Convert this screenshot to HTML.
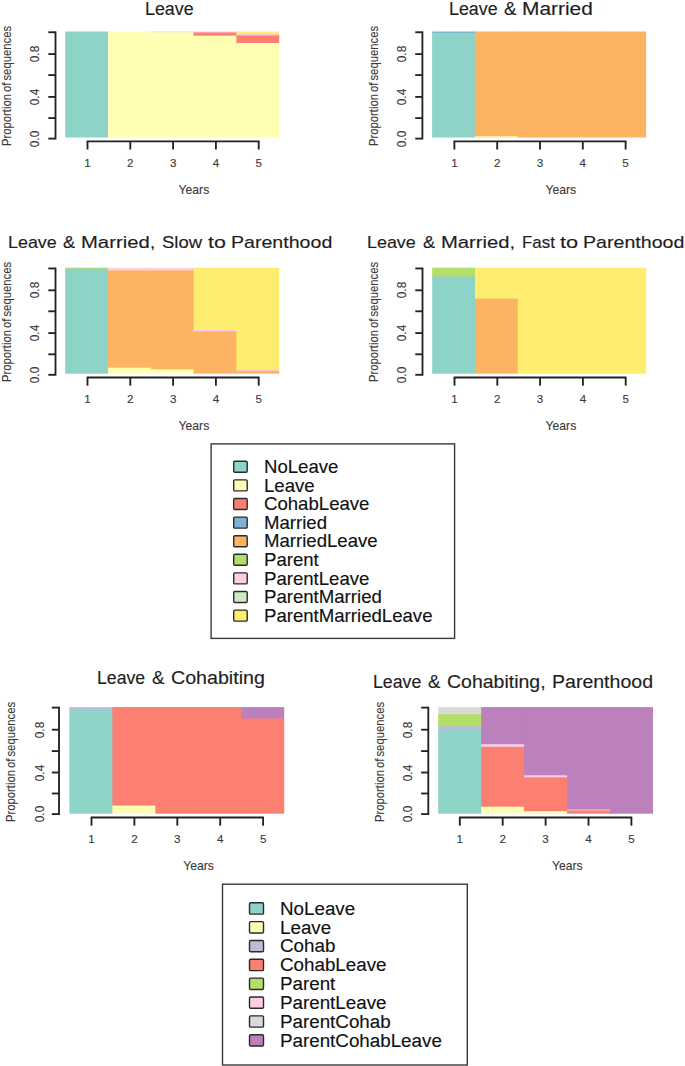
<!DOCTYPE html>
<html><head><meta charset="utf-8"><style>
html,body{margin:0;padding:0;background:#fff;}
body{width:685px;height:1066px;position:relative;overflow:hidden;font-family:"Liberation Sans", sans-serif;}
svg{position:absolute;left:0;top:0;}
</style></head><body>
<svg width="685" height="1066" viewBox="0 0 685 1066">
<rect x="65.20" y="31.50" width="43.80" height="106.00" fill="#8DD3C7" />
<rect x="108.00" y="31.50" width="43.80" height="106.00" fill="#FFFFB3" />
<rect x="150.80" y="31.50" width="43.80" height="1.80" fill="#FCCDE5" />
<rect x="150.80" y="32.30" width="43.80" height="105.20" fill="#FFFFB3" />
<rect x="193.60" y="31.50" width="43.80" height="2.00" fill="#FCCDE5" />
<rect x="193.60" y="32.50" width="43.80" height="4.20" fill="#FB8072" />
<rect x="193.60" y="35.70" width="43.80" height="101.80" fill="#FFFFB3" />
<rect x="236.40" y="31.50" width="42.80" height="2.80" fill="#FFED6F" />
<rect x="236.40" y="33.30" width="42.80" height="2.60" fill="#FCCDE5" />
<rect x="236.40" y="34.90" width="42.80" height="2.00" fill="#FDB462" />
<rect x="236.40" y="35.90" width="42.80" height="8.10" fill="#FB8072" />
<rect x="236.40" y="43.00" width="42.80" height="94.50" fill="#FFFFB3" />
<line x1="55.50" y1="31.45" x2="55.50" y2="139.40" stroke="#222" stroke-width="1.85"/>
<line x1="48.30" y1="138.60" x2="55.50" y2="138.60" stroke="#222" stroke-width="1.85"/>
<line x1="48.30" y1="118.10" x2="55.50" y2="118.10" stroke="#222" stroke-width="1.85"/>
<line x1="48.30" y1="96.90" x2="55.50" y2="96.90" stroke="#222" stroke-width="1.85"/>
<line x1="48.30" y1="75.10" x2="55.50" y2="75.10" stroke="#222" stroke-width="1.85"/>
<line x1="48.30" y1="54.10" x2="55.50" y2="54.10" stroke="#222" stroke-width="1.85"/>
<line x1="48.30" y1="32.25" x2="55.50" y2="32.25" stroke="#222" stroke-width="1.85"/>
<line x1="86.70" y1="141.30" x2="259.50" y2="141.30" stroke="#222" stroke-width="1.85"/>
<line x1="87.50" y1="141.30" x2="87.50" y2="149.50" stroke="#222" stroke-width="1.85"/>
<line x1="130.30" y1="141.30" x2="130.30" y2="149.50" stroke="#222" stroke-width="1.85"/>
<line x1="173.10" y1="141.30" x2="173.10" y2="149.50" stroke="#222" stroke-width="1.85"/>
<line x1="215.90" y1="141.30" x2="215.90" y2="149.50" stroke="#222" stroke-width="1.85"/>
<line x1="258.70" y1="141.30" x2="258.70" y2="149.50" stroke="#222" stroke-width="1.85"/>
<rect x="432.10" y="31.50" width="43.80" height="2.30" fill="#80B1D3" />
<rect x="432.10" y="32.80" width="43.80" height="104.70" fill="#8DD3C7" />
<rect x="474.90" y="31.50" width="43.80" height="105.80" fill="#FDB462" />
<rect x="474.90" y="136.30" width="43.80" height="1.20" fill="#FFFFB3" />
<rect x="517.70" y="31.50" width="43.80" height="106.50" fill="#FDB462" />
<rect x="517.70" y="137.00" width="43.80" height="0.50" fill="#FFFFB3" />
<rect x="560.50" y="31.50" width="43.80" height="106.00" fill="#FDB462" />
<rect x="603.30" y="31.50" width="42.80" height="106.00" fill="#FDB462" />
<line x1="422.40" y1="31.45" x2="422.40" y2="139.40" stroke="#222" stroke-width="1.85"/>
<line x1="415.20" y1="138.60" x2="422.40" y2="138.60" stroke="#222" stroke-width="1.85"/>
<line x1="415.20" y1="118.10" x2="422.40" y2="118.10" stroke="#222" stroke-width="1.85"/>
<line x1="415.20" y1="96.90" x2="422.40" y2="96.90" stroke="#222" stroke-width="1.85"/>
<line x1="415.20" y1="75.10" x2="422.40" y2="75.10" stroke="#222" stroke-width="1.85"/>
<line x1="415.20" y1="54.10" x2="422.40" y2="54.10" stroke="#222" stroke-width="1.85"/>
<line x1="415.20" y1="32.25" x2="422.40" y2="32.25" stroke="#222" stroke-width="1.85"/>
<line x1="453.60" y1="141.30" x2="626.40" y2="141.30" stroke="#222" stroke-width="1.85"/>
<line x1="454.40" y1="141.30" x2="454.40" y2="149.50" stroke="#222" stroke-width="1.85"/>
<line x1="497.20" y1="141.30" x2="497.20" y2="149.50" stroke="#222" stroke-width="1.85"/>
<line x1="540.00" y1="141.30" x2="540.00" y2="149.50" stroke="#222" stroke-width="1.85"/>
<line x1="582.80" y1="141.30" x2="582.80" y2="149.50" stroke="#222" stroke-width="1.85"/>
<line x1="625.60" y1="141.30" x2="625.60" y2="149.50" stroke="#222" stroke-width="1.85"/>
<rect x="65.20" y="267.70" width="43.80" height="2.00" fill="#B3DE69" />
<rect x="65.20" y="268.70" width="43.80" height="105.00" fill="#8DD3C7" />
<rect x="108.00" y="267.70" width="43.80" height="3.70" fill="#FCCDE5" />
<rect x="108.00" y="270.40" width="43.80" height="98.30" fill="#FDB462" />
<rect x="108.00" y="367.70" width="43.80" height="6.00" fill="#FFFFB3" />
<rect x="150.80" y="267.70" width="43.80" height="3.70" fill="#FCCDE5" />
<rect x="150.80" y="270.40" width="43.80" height="99.90" fill="#FDB462" />
<rect x="150.80" y="369.30" width="43.80" height="4.40" fill="#FFFFB3" />
<rect x="193.60" y="267.70" width="43.80" height="63.30" fill="#FFED6F" />
<rect x="193.60" y="330.00" width="43.80" height="2.20" fill="#FCCDE5" />
<rect x="193.60" y="331.20" width="43.80" height="42.50" fill="#FDB462" />
<rect x="236.40" y="267.70" width="42.80" height="102.50" fill="#FFED6F" />
<rect x="236.40" y="369.20" width="42.80" height="2.60" fill="#FCCDE5" />
<rect x="236.40" y="370.80" width="42.80" height="2.90" fill="#FDB462" />
<line x1="55.50" y1="267.65" x2="55.50" y2="375.60" stroke="#222" stroke-width="1.85"/>
<line x1="48.30" y1="374.80" x2="55.50" y2="374.80" stroke="#222" stroke-width="1.85"/>
<line x1="48.30" y1="354.30" x2="55.50" y2="354.30" stroke="#222" stroke-width="1.85"/>
<line x1="48.30" y1="333.10" x2="55.50" y2="333.10" stroke="#222" stroke-width="1.85"/>
<line x1="48.30" y1="311.30" x2="55.50" y2="311.30" stroke="#222" stroke-width="1.85"/>
<line x1="48.30" y1="290.30" x2="55.50" y2="290.30" stroke="#222" stroke-width="1.85"/>
<line x1="48.30" y1="268.45" x2="55.50" y2="268.45" stroke="#222" stroke-width="1.85"/>
<line x1="86.70" y1="377.50" x2="259.50" y2="377.50" stroke="#222" stroke-width="1.85"/>
<line x1="87.50" y1="377.50" x2="87.50" y2="385.70" stroke="#222" stroke-width="1.85"/>
<line x1="130.30" y1="377.50" x2="130.30" y2="385.70" stroke="#222" stroke-width="1.85"/>
<line x1="173.10" y1="377.50" x2="173.10" y2="385.70" stroke="#222" stroke-width="1.85"/>
<line x1="215.90" y1="377.50" x2="215.90" y2="385.70" stroke="#222" stroke-width="1.85"/>
<line x1="258.70" y1="377.50" x2="258.70" y2="385.70" stroke="#222" stroke-width="1.85"/>
<rect x="432.20" y="267.70" width="43.80" height="9.80" fill="#B3DE69" />
<rect x="432.20" y="276.50" width="43.80" height="97.20" fill="#8DD3C7" />
<rect x="475.00" y="267.70" width="43.80" height="32.00" fill="#FFED6F" />
<rect x="475.00" y="298.70" width="43.80" height="75.00" fill="#FDB462" />
<rect x="517.80" y="267.70" width="43.80" height="106.00" fill="#FFED6F" />
<rect x="560.60" y="267.70" width="43.80" height="106.00" fill="#FFED6F" />
<rect x="603.40" y="267.70" width="42.80" height="106.00" fill="#FFED6F" />
<line x1="422.50" y1="267.65" x2="422.50" y2="375.60" stroke="#222" stroke-width="1.85"/>
<line x1="415.30" y1="374.80" x2="422.50" y2="374.80" stroke="#222" stroke-width="1.85"/>
<line x1="415.30" y1="354.30" x2="422.50" y2="354.30" stroke="#222" stroke-width="1.85"/>
<line x1="415.30" y1="333.10" x2="422.50" y2="333.10" stroke="#222" stroke-width="1.85"/>
<line x1="415.30" y1="311.30" x2="422.50" y2="311.30" stroke="#222" stroke-width="1.85"/>
<line x1="415.30" y1="290.30" x2="422.50" y2="290.30" stroke="#222" stroke-width="1.85"/>
<line x1="415.30" y1="268.45" x2="422.50" y2="268.45" stroke="#222" stroke-width="1.85"/>
<line x1="453.70" y1="377.50" x2="626.50" y2="377.50" stroke="#222" stroke-width="1.85"/>
<line x1="454.50" y1="377.50" x2="454.50" y2="385.70" stroke="#222" stroke-width="1.85"/>
<line x1="497.30" y1="377.50" x2="497.30" y2="385.70" stroke="#222" stroke-width="1.85"/>
<line x1="540.10" y1="377.50" x2="540.10" y2="385.70" stroke="#222" stroke-width="1.85"/>
<line x1="582.90" y1="377.50" x2="582.90" y2="385.70" stroke="#222" stroke-width="1.85"/>
<line x1="625.70" y1="377.50" x2="625.70" y2="385.70" stroke="#222" stroke-width="1.85"/>
<rect x="69.40" y="707.10" width="43.96" height="3.40" fill="#BEBADA" />
<rect x="69.40" y="709.50" width="43.96" height="104.20" fill="#8DD3C7" />
<rect x="112.36" y="707.10" width="43.96" height="99.50" fill="#FB8072" />
<rect x="112.36" y="805.60" width="43.96" height="8.10" fill="#FFFFB3" />
<rect x="155.32" y="707.10" width="43.96" height="106.60" fill="#FB8072" />
<rect x="198.28" y="707.10" width="43.96" height="106.60" fill="#FB8072" />
<rect x="241.24" y="707.10" width="42.96" height="12.40" fill="#BC80BD" />
<rect x="241.24" y="718.50" width="42.96" height="95.20" fill="#FB8072" />
<line x1="59.00" y1="706.80" x2="59.00" y2="814.90" stroke="#222" stroke-width="1.85"/>
<line x1="51.80" y1="814.10" x2="59.00" y2="814.10" stroke="#222" stroke-width="1.85"/>
<line x1="51.80" y1="793.50" x2="59.00" y2="793.50" stroke="#222" stroke-width="1.85"/>
<line x1="51.80" y1="772.50" x2="59.00" y2="772.50" stroke="#222" stroke-width="1.85"/>
<line x1="51.80" y1="751.10" x2="59.00" y2="751.10" stroke="#222" stroke-width="1.85"/>
<line x1="51.80" y1="729.70" x2="59.00" y2="729.70" stroke="#222" stroke-width="1.85"/>
<line x1="51.80" y1="707.60" x2="59.00" y2="707.60" stroke="#222" stroke-width="1.85"/>
<line x1="90.70" y1="817.50" x2="263.90" y2="817.50" stroke="#222" stroke-width="1.85"/>
<line x1="91.50" y1="817.50" x2="91.50" y2="825.70" stroke="#222" stroke-width="1.85"/>
<line x1="134.40" y1="817.50" x2="134.40" y2="825.70" stroke="#222" stroke-width="1.85"/>
<line x1="177.30" y1="817.50" x2="177.30" y2="825.70" stroke="#222" stroke-width="1.85"/>
<line x1="220.20" y1="817.50" x2="220.20" y2="825.70" stroke="#222" stroke-width="1.85"/>
<line x1="263.10" y1="817.50" x2="263.10" y2="825.70" stroke="#222" stroke-width="1.85"/>
<rect x="438.20" y="707.10" width="43.96" height="8.00" fill="#D9D9D9" />
<rect x="438.20" y="714.10" width="43.96" height="13.20" fill="#B3DE69" />
<rect x="438.20" y="726.30" width="43.96" height="3.60" fill="#BEBADA" />
<rect x="438.20" y="728.90" width="43.96" height="84.80" fill="#8DD3C7" />
<rect x="481.16" y="707.10" width="43.96" height="38.10" fill="#BC80BD" />
<rect x="481.16" y="744.20" width="43.96" height="3.60" fill="#FCCDE5" />
<rect x="481.16" y="746.80" width="43.96" height="60.90" fill="#FB8072" />
<rect x="481.16" y="806.70" width="43.96" height="7.00" fill="#FFFFB3" />
<rect x="524.12" y="707.10" width="43.96" height="69.20" fill="#BC80BD" />
<rect x="524.12" y="775.30" width="43.96" height="3.10" fill="#FCCDE5" />
<rect x="524.12" y="777.40" width="43.96" height="34.80" fill="#FB8072" />
<rect x="524.12" y="811.20" width="43.96" height="2.50" fill="#FFFFB3" />
<rect x="567.08" y="707.10" width="43.96" height="103.50" fill="#BC80BD" />
<rect x="567.08" y="809.60" width="43.96" height="1.90" fill="#FCCDE5" />
<rect x="567.08" y="810.50" width="43.96" height="3.20" fill="#FB8072" />
<rect x="610.04" y="707.10" width="42.96" height="106.60" fill="#BC80BD" />
<line x1="428.30" y1="706.80" x2="428.30" y2="814.90" stroke="#222" stroke-width="1.85"/>
<line x1="421.10" y1="814.10" x2="428.30" y2="814.10" stroke="#222" stroke-width="1.85"/>
<line x1="421.10" y1="793.50" x2="428.30" y2="793.50" stroke="#222" stroke-width="1.85"/>
<line x1="421.10" y1="772.50" x2="428.30" y2="772.50" stroke="#222" stroke-width="1.85"/>
<line x1="421.10" y1="751.10" x2="428.30" y2="751.10" stroke="#222" stroke-width="1.85"/>
<line x1="421.10" y1="729.70" x2="428.30" y2="729.70" stroke="#222" stroke-width="1.85"/>
<line x1="421.10" y1="707.60" x2="428.30" y2="707.60" stroke="#222" stroke-width="1.85"/>
<line x1="459.00" y1="817.50" x2="632.20" y2="817.50" stroke="#222" stroke-width="1.85"/>
<line x1="459.80" y1="817.50" x2="459.80" y2="825.70" stroke="#222" stroke-width="1.85"/>
<line x1="502.70" y1="817.50" x2="502.70" y2="825.70" stroke="#222" stroke-width="1.85"/>
<line x1="545.60" y1="817.50" x2="545.60" y2="825.70" stroke="#222" stroke-width="1.85"/>
<line x1="588.50" y1="817.50" x2="588.50" y2="825.70" stroke="#222" stroke-width="1.85"/>
<line x1="631.40" y1="817.50" x2="631.40" y2="825.70" stroke="#222" stroke-width="1.85"/>
<rect x="211.10" y="443.90" width="243.50" height="194.50" fill="none" stroke="#3a3a3a" stroke-width="1.4"/>
<rect x="233.70" y="461.30" width="13.50" height="11.00" fill="#8DD3C7" stroke="#2a2a2a" stroke-width="1.4" rx="1.2"/>
<rect x="233.70" y="479.90" width="13.50" height="11.00" fill="#FFFFB3" stroke="#2a2a2a" stroke-width="1.4" rx="1.2"/>
<rect x="233.70" y="498.50" width="13.50" height="11.00" fill="#FB8072" stroke="#2a2a2a" stroke-width="1.4" rx="1.2"/>
<rect x="233.70" y="517.10" width="13.50" height="11.00" fill="#80B1D3" stroke="#2a2a2a" stroke-width="1.4" rx="1.2"/>
<rect x="233.70" y="535.70" width="13.50" height="11.00" fill="#FDB462" stroke="#2a2a2a" stroke-width="1.4" rx="1.2"/>
<rect x="233.70" y="554.30" width="13.50" height="11.00" fill="#B3DE69" stroke="#2a2a2a" stroke-width="1.4" rx="1.2"/>
<rect x="233.70" y="572.90" width="13.50" height="11.00" fill="#FCCDE5" stroke="#2a2a2a" stroke-width="1.4" rx="1.2"/>
<rect x="233.70" y="591.50" width="13.50" height="11.00" fill="#CCEBC5" stroke="#2a2a2a" stroke-width="1.4" rx="1.2"/>
<rect x="233.70" y="610.10" width="13.50" height="11.00" fill="#FFED6F" stroke="#2a2a2a" stroke-width="1.4" rx="1.2"/>
<rect x="222.50" y="884.20" width="244.80" height="180.80" fill="none" stroke="#3a3a3a" stroke-width="1.4"/>
<rect x="249.50" y="902.80" width="14.00" height="11.30" fill="#8DD3C7" stroke="#2a2a2a" stroke-width="1.4" rx="1.2"/>
<rect x="249.50" y="921.64" width="14.00" height="11.30" fill="#FFFFB3" stroke="#2a2a2a" stroke-width="1.4" rx="1.2"/>
<rect x="249.50" y="940.48" width="14.00" height="11.30" fill="#BEBADA" stroke="#2a2a2a" stroke-width="1.4" rx="1.2"/>
<rect x="249.50" y="959.32" width="14.00" height="11.30" fill="#FB8072" stroke="#2a2a2a" stroke-width="1.4" rx="1.2"/>
<rect x="249.50" y="978.16" width="14.00" height="11.30" fill="#B3DE69" stroke="#2a2a2a" stroke-width="1.4" rx="1.2"/>
<rect x="249.50" y="997.00" width="14.00" height="11.30" fill="#FCCDE5" stroke="#2a2a2a" stroke-width="1.4" rx="1.2"/>
<rect x="249.50" y="1015.84" width="14.00" height="11.30" fill="#D9D9D9" stroke="#2a2a2a" stroke-width="1.4" rx="1.2"/>
<rect x="249.50" y="1034.68" width="14.00" height="11.30" fill="#BC80BD" stroke="#2a2a2a" stroke-width="1.4" rx="1.2"/>
</svg>
<div style="position:absolute;left:35.40px;top:138.60px;font-size:12.5px;line-height:12.5px;color:#3a3a3a;white-space:nowrap;transform:translate(-50%,-50%) rotate(-90deg) scaleX(0.95);-webkit-text-stroke:0.12px #3a3a3a;">0.0</div>
<div style="position:absolute;left:35.40px;top:96.90px;font-size:12.5px;line-height:12.5px;color:#3a3a3a;white-space:nowrap;transform:translate(-50%,-50%) rotate(-90deg) scaleX(0.95);-webkit-text-stroke:0.12px #3a3a3a;">0.4</div>
<div style="position:absolute;left:35.40px;top:54.10px;font-size:12.5px;line-height:12.5px;color:#3a3a3a;white-space:nowrap;transform:translate(-50%,-50%) rotate(-90deg) scaleX(0.95);-webkit-text-stroke:0.12px #3a3a3a;">0.8</div>
<div style="position:absolute;left:6.60px;top:86.00px;font-size:12.2px;line-height:12.2px;color:#3a3a3a;white-space:nowrap;transform:translate(-50%,-50%) rotate(-90deg) scaleX(0.926);-webkit-text-stroke:0.12px #3a3a3a;word-spacing:-1.2px;">Proportion of sequences</div>
<div style="position:absolute;top:157.18px;font-size:11.6px;line-height:11.6px;color:#3a3a3a;white-space:nowrap;left:-212.50px;width:600px;text-align:center;-webkit-text-stroke:0.12px #3a3a3a;">1</div>
<div style="position:absolute;top:157.18px;font-size:11.6px;line-height:11.6px;color:#3a3a3a;white-space:nowrap;left:-169.70px;width:600px;text-align:center;-webkit-text-stroke:0.12px #3a3a3a;">2</div>
<div style="position:absolute;top:157.18px;font-size:11.6px;line-height:11.6px;color:#3a3a3a;white-space:nowrap;left:-126.90px;width:600px;text-align:center;-webkit-text-stroke:0.12px #3a3a3a;">3</div>
<div style="position:absolute;top:157.18px;font-size:11.6px;line-height:11.6px;color:#3a3a3a;white-space:nowrap;left:-84.10px;width:600px;text-align:center;-webkit-text-stroke:0.12px #3a3a3a;">4</div>
<div style="position:absolute;top:157.18px;font-size:11.6px;line-height:11.6px;color:#3a3a3a;white-space:nowrap;left:-41.30px;width:600px;text-align:center;-webkit-text-stroke:0.12px #3a3a3a;">5</div>
<div style="position:absolute;top:184.17px;font-size:12.2px;line-height:12.2px;color:#3a3a3a;white-space:nowrap;left:-106.10px;width:600px;text-align:center;-webkit-text-stroke:0.12px #3a3a3a;">Years</div>
<div style="position:absolute;left:402.30px;top:138.60px;font-size:12.5px;line-height:12.5px;color:#3a3a3a;white-space:nowrap;transform:translate(-50%,-50%) rotate(-90deg) scaleX(0.95);-webkit-text-stroke:0.12px #3a3a3a;">0.0</div>
<div style="position:absolute;left:402.30px;top:96.90px;font-size:12.5px;line-height:12.5px;color:#3a3a3a;white-space:nowrap;transform:translate(-50%,-50%) rotate(-90deg) scaleX(0.95);-webkit-text-stroke:0.12px #3a3a3a;">0.4</div>
<div style="position:absolute;left:402.30px;top:54.10px;font-size:12.5px;line-height:12.5px;color:#3a3a3a;white-space:nowrap;transform:translate(-50%,-50%) rotate(-90deg) scaleX(0.95);-webkit-text-stroke:0.12px #3a3a3a;">0.8</div>
<div style="position:absolute;left:373.50px;top:86.00px;font-size:12.2px;line-height:12.2px;color:#3a3a3a;white-space:nowrap;transform:translate(-50%,-50%) rotate(-90deg) scaleX(0.926);-webkit-text-stroke:0.12px #3a3a3a;word-spacing:-1.2px;">Proportion of sequences</div>
<div style="position:absolute;top:157.18px;font-size:11.6px;line-height:11.6px;color:#3a3a3a;white-space:nowrap;left:154.40px;width:600px;text-align:center;-webkit-text-stroke:0.12px #3a3a3a;">1</div>
<div style="position:absolute;top:157.18px;font-size:11.6px;line-height:11.6px;color:#3a3a3a;white-space:nowrap;left:197.20px;width:600px;text-align:center;-webkit-text-stroke:0.12px #3a3a3a;">2</div>
<div style="position:absolute;top:157.18px;font-size:11.6px;line-height:11.6px;color:#3a3a3a;white-space:nowrap;left:240.00px;width:600px;text-align:center;-webkit-text-stroke:0.12px #3a3a3a;">3</div>
<div style="position:absolute;top:157.18px;font-size:11.6px;line-height:11.6px;color:#3a3a3a;white-space:nowrap;left:282.80px;width:600px;text-align:center;-webkit-text-stroke:0.12px #3a3a3a;">4</div>
<div style="position:absolute;top:157.18px;font-size:11.6px;line-height:11.6px;color:#3a3a3a;white-space:nowrap;left:325.60px;width:600px;text-align:center;-webkit-text-stroke:0.12px #3a3a3a;">5</div>
<div style="position:absolute;top:184.17px;font-size:12.2px;line-height:12.2px;color:#3a3a3a;white-space:nowrap;left:260.80px;width:600px;text-align:center;-webkit-text-stroke:0.12px #3a3a3a;">Years</div>
<div style="position:absolute;left:35.40px;top:374.80px;font-size:12.5px;line-height:12.5px;color:#3a3a3a;white-space:nowrap;transform:translate(-50%,-50%) rotate(-90deg) scaleX(0.95);-webkit-text-stroke:0.12px #3a3a3a;">0.0</div>
<div style="position:absolute;left:35.40px;top:333.10px;font-size:12.5px;line-height:12.5px;color:#3a3a3a;white-space:nowrap;transform:translate(-50%,-50%) rotate(-90deg) scaleX(0.95);-webkit-text-stroke:0.12px #3a3a3a;">0.4</div>
<div style="position:absolute;left:35.40px;top:290.30px;font-size:12.5px;line-height:12.5px;color:#3a3a3a;white-space:nowrap;transform:translate(-50%,-50%) rotate(-90deg) scaleX(0.95);-webkit-text-stroke:0.12px #3a3a3a;">0.8</div>
<div style="position:absolute;left:6.60px;top:322.20px;font-size:12.2px;line-height:12.2px;color:#3a3a3a;white-space:nowrap;transform:translate(-50%,-50%) rotate(-90deg) scaleX(0.926);-webkit-text-stroke:0.12px #3a3a3a;word-spacing:-1.2px;">Proportion of sequences</div>
<div style="position:absolute;top:393.38px;font-size:11.6px;line-height:11.6px;color:#3a3a3a;white-space:nowrap;left:-212.50px;width:600px;text-align:center;-webkit-text-stroke:0.12px #3a3a3a;">1</div>
<div style="position:absolute;top:393.38px;font-size:11.6px;line-height:11.6px;color:#3a3a3a;white-space:nowrap;left:-169.70px;width:600px;text-align:center;-webkit-text-stroke:0.12px #3a3a3a;">2</div>
<div style="position:absolute;top:393.38px;font-size:11.6px;line-height:11.6px;color:#3a3a3a;white-space:nowrap;left:-126.90px;width:600px;text-align:center;-webkit-text-stroke:0.12px #3a3a3a;">3</div>
<div style="position:absolute;top:393.38px;font-size:11.6px;line-height:11.6px;color:#3a3a3a;white-space:nowrap;left:-84.10px;width:600px;text-align:center;-webkit-text-stroke:0.12px #3a3a3a;">4</div>
<div style="position:absolute;top:393.38px;font-size:11.6px;line-height:11.6px;color:#3a3a3a;white-space:nowrap;left:-41.30px;width:600px;text-align:center;-webkit-text-stroke:0.12px #3a3a3a;">5</div>
<div style="position:absolute;top:420.37px;font-size:12.2px;line-height:12.2px;color:#3a3a3a;white-space:nowrap;left:-106.10px;width:600px;text-align:center;-webkit-text-stroke:0.12px #3a3a3a;">Years</div>
<div style="position:absolute;left:402.40px;top:374.80px;font-size:12.5px;line-height:12.5px;color:#3a3a3a;white-space:nowrap;transform:translate(-50%,-50%) rotate(-90deg) scaleX(0.95);-webkit-text-stroke:0.12px #3a3a3a;">0.0</div>
<div style="position:absolute;left:402.40px;top:333.10px;font-size:12.5px;line-height:12.5px;color:#3a3a3a;white-space:nowrap;transform:translate(-50%,-50%) rotate(-90deg) scaleX(0.95);-webkit-text-stroke:0.12px #3a3a3a;">0.4</div>
<div style="position:absolute;left:402.40px;top:290.30px;font-size:12.5px;line-height:12.5px;color:#3a3a3a;white-space:nowrap;transform:translate(-50%,-50%) rotate(-90deg) scaleX(0.95);-webkit-text-stroke:0.12px #3a3a3a;">0.8</div>
<div style="position:absolute;left:373.60px;top:322.20px;font-size:12.2px;line-height:12.2px;color:#3a3a3a;white-space:nowrap;transform:translate(-50%,-50%) rotate(-90deg) scaleX(0.926);-webkit-text-stroke:0.12px #3a3a3a;word-spacing:-1.2px;">Proportion of sequences</div>
<div style="position:absolute;top:393.38px;font-size:11.6px;line-height:11.6px;color:#3a3a3a;white-space:nowrap;left:154.50px;width:600px;text-align:center;-webkit-text-stroke:0.12px #3a3a3a;">1</div>
<div style="position:absolute;top:393.38px;font-size:11.6px;line-height:11.6px;color:#3a3a3a;white-space:nowrap;left:197.30px;width:600px;text-align:center;-webkit-text-stroke:0.12px #3a3a3a;">2</div>
<div style="position:absolute;top:393.38px;font-size:11.6px;line-height:11.6px;color:#3a3a3a;white-space:nowrap;left:240.10px;width:600px;text-align:center;-webkit-text-stroke:0.12px #3a3a3a;">3</div>
<div style="position:absolute;top:393.38px;font-size:11.6px;line-height:11.6px;color:#3a3a3a;white-space:nowrap;left:282.90px;width:600px;text-align:center;-webkit-text-stroke:0.12px #3a3a3a;">4</div>
<div style="position:absolute;top:393.38px;font-size:11.6px;line-height:11.6px;color:#3a3a3a;white-space:nowrap;left:325.70px;width:600px;text-align:center;-webkit-text-stroke:0.12px #3a3a3a;">5</div>
<div style="position:absolute;top:420.37px;font-size:12.2px;line-height:12.2px;color:#3a3a3a;white-space:nowrap;left:260.90px;width:600px;text-align:center;-webkit-text-stroke:0.12px #3a3a3a;">Years</div>
<div style="position:absolute;left:39.60px;top:814.10px;font-size:12.5px;line-height:12.5px;color:#3a3a3a;white-space:nowrap;transform:translate(-50%,-50%) rotate(-90deg) scaleX(0.95);-webkit-text-stroke:0.12px #3a3a3a;">0.0</div>
<div style="position:absolute;left:39.60px;top:772.50px;font-size:12.5px;line-height:12.5px;color:#3a3a3a;white-space:nowrap;transform:translate(-50%,-50%) rotate(-90deg) scaleX(0.95);-webkit-text-stroke:0.12px #3a3a3a;">0.4</div>
<div style="position:absolute;left:39.60px;top:729.70px;font-size:12.5px;line-height:12.5px;color:#3a3a3a;white-space:nowrap;transform:translate(-50%,-50%) rotate(-90deg) scaleX(0.95);-webkit-text-stroke:0.12px #3a3a3a;">0.8</div>
<div style="position:absolute;left:10.80px;top:761.90px;font-size:12.2px;line-height:12.2px;color:#3a3a3a;white-space:nowrap;transform:translate(-50%,-50%) rotate(-90deg) scaleX(0.926);-webkit-text-stroke:0.12px #3a3a3a;word-spacing:-1.2px;">Proportion of sequences</div>
<div style="position:absolute;top:833.38px;font-size:11.6px;line-height:11.6px;color:#3a3a3a;white-space:nowrap;left:-208.50px;width:600px;text-align:center;-webkit-text-stroke:0.12px #3a3a3a;">1</div>
<div style="position:absolute;top:833.38px;font-size:11.6px;line-height:11.6px;color:#3a3a3a;white-space:nowrap;left:-165.60px;width:600px;text-align:center;-webkit-text-stroke:0.12px #3a3a3a;">2</div>
<div style="position:absolute;top:833.38px;font-size:11.6px;line-height:11.6px;color:#3a3a3a;white-space:nowrap;left:-122.70px;width:600px;text-align:center;-webkit-text-stroke:0.12px #3a3a3a;">3</div>
<div style="position:absolute;top:833.38px;font-size:11.6px;line-height:11.6px;color:#3a3a3a;white-space:nowrap;left:-79.80px;width:600px;text-align:center;-webkit-text-stroke:0.12px #3a3a3a;">4</div>
<div style="position:absolute;top:833.38px;font-size:11.6px;line-height:11.6px;color:#3a3a3a;white-space:nowrap;left:-36.90px;width:600px;text-align:center;-webkit-text-stroke:0.12px #3a3a3a;">5</div>
<div style="position:absolute;top:860.37px;font-size:12.2px;line-height:12.2px;color:#3a3a3a;white-space:nowrap;left:-101.50px;width:600px;text-align:center;-webkit-text-stroke:0.12px #3a3a3a;">Years</div>
<div style="position:absolute;left:408.40px;top:814.10px;font-size:12.5px;line-height:12.5px;color:#3a3a3a;white-space:nowrap;transform:translate(-50%,-50%) rotate(-90deg) scaleX(0.95);-webkit-text-stroke:0.12px #3a3a3a;">0.0</div>
<div style="position:absolute;left:408.40px;top:772.50px;font-size:12.5px;line-height:12.5px;color:#3a3a3a;white-space:nowrap;transform:translate(-50%,-50%) rotate(-90deg) scaleX(0.95);-webkit-text-stroke:0.12px #3a3a3a;">0.4</div>
<div style="position:absolute;left:408.40px;top:729.70px;font-size:12.5px;line-height:12.5px;color:#3a3a3a;white-space:nowrap;transform:translate(-50%,-50%) rotate(-90deg) scaleX(0.95);-webkit-text-stroke:0.12px #3a3a3a;">0.8</div>
<div style="position:absolute;left:379.60px;top:761.90px;font-size:12.2px;line-height:12.2px;color:#3a3a3a;white-space:nowrap;transform:translate(-50%,-50%) rotate(-90deg) scaleX(0.926);-webkit-text-stroke:0.12px #3a3a3a;word-spacing:-1.2px;">Proportion of sequences</div>
<div style="position:absolute;top:833.38px;font-size:11.6px;line-height:11.6px;color:#3a3a3a;white-space:nowrap;left:159.80px;width:600px;text-align:center;-webkit-text-stroke:0.12px #3a3a3a;">1</div>
<div style="position:absolute;top:833.38px;font-size:11.6px;line-height:11.6px;color:#3a3a3a;white-space:nowrap;left:202.70px;width:600px;text-align:center;-webkit-text-stroke:0.12px #3a3a3a;">2</div>
<div style="position:absolute;top:833.38px;font-size:11.6px;line-height:11.6px;color:#3a3a3a;white-space:nowrap;left:245.60px;width:600px;text-align:center;-webkit-text-stroke:0.12px #3a3a3a;">3</div>
<div style="position:absolute;top:833.38px;font-size:11.6px;line-height:11.6px;color:#3a3a3a;white-space:nowrap;left:288.50px;width:600px;text-align:center;-webkit-text-stroke:0.12px #3a3a3a;">4</div>
<div style="position:absolute;top:833.38px;font-size:11.6px;line-height:11.6px;color:#3a3a3a;white-space:nowrap;left:331.40px;width:600px;text-align:center;-webkit-text-stroke:0.12px #3a3a3a;">5</div>
<div style="position:absolute;top:860.37px;font-size:12.2px;line-height:12.2px;color:#3a3a3a;white-space:nowrap;left:267.30px;width:600px;text-align:center;-webkit-text-stroke:0.12px #3a3a3a;">Years</div>
<div style="position:absolute;top:0.89px;font-size:17.5px;line-height:17.5px;color:#1e1e1e;white-space:nowrap;left:145.12px;-webkit-text-stroke:0.15px #1e1e1e;transform:scaleX(1.0208);transform-origin:0 0;">Leave</div>
<div style="position:absolute;top:0.89px;font-size:17.5px;line-height:17.5px;color:#1e1e1e;white-space:nowrap;left:448.53px;-webkit-text-stroke:0.15px #1e1e1e;transform:scaleX(1.0186);transform-origin:0 0;">Leave</div>
<div style="position:absolute;top:0.89px;font-size:17.5px;line-height:17.5px;color:#1e1e1e;white-space:nowrap;left:503.66px;-webkit-text-stroke:0.15px #1e1e1e;transform:scaleX(1.0727);transform-origin:0 0;">&amp;</div>
<div style="position:absolute;top:0.89px;font-size:17.5px;line-height:17.5px;color:#1e1e1e;white-space:nowrap;left:521.91px;-webkit-text-stroke:0.15px #1e1e1e;transform:scaleX(1.1947);transform-origin:0 0;">Married</div>
<div style="position:absolute;top:234.21px;font-size:17.0px;line-height:17.0px;color:#1e1e1e;white-space:nowrap;left:7.59px;-webkit-text-stroke:0.15px #1e1e1e;transform:scaleX(1.0517);transform-origin:0 0;">Leave</div>
<div style="position:absolute;top:234.21px;font-size:17.0px;line-height:17.0px;color:#1e1e1e;white-space:nowrap;left:62.97px;-webkit-text-stroke:0.15px #1e1e1e;transform:scaleX(1.0698);transform-origin:0 0;">&amp;</div>
<div style="position:absolute;top:234.21px;font-size:17.0px;line-height:17.0px;color:#1e1e1e;white-space:nowrap;left:81.11px;-webkit-text-stroke:0.15px #1e1e1e;transform:scaleX(1.1916);transform-origin:0 0;">Married,</div>
<div style="position:absolute;top:234.21px;font-size:17.0px;line-height:17.0px;color:#1e1e1e;white-space:nowrap;left:161.68px;-webkit-text-stroke:0.15px #1e1e1e;transform:scaleX(1.0869);transform-origin:0 0;">Slow</div>
<div style="position:absolute;top:234.21px;font-size:17.0px;line-height:17.0px;color:#1e1e1e;white-space:nowrap;left:208.18px;-webkit-text-stroke:0.15px #1e1e1e;transform:scaleX(1.2604);transform-origin:0 0;">to</div>
<div style="position:absolute;top:234.21px;font-size:17.0px;line-height:17.0px;color:#1e1e1e;white-space:nowrap;left:230.56px;-webkit-text-stroke:0.15px #1e1e1e;transform:scaleX(1.1522);transform-origin:0 0;">Parenthood</div>
<div style="position:absolute;top:234.21px;font-size:17.0px;line-height:17.0px;color:#1e1e1e;white-space:nowrap;left:367.29px;-webkit-text-stroke:0.15px #1e1e1e;transform:scaleX(1.0517);transform-origin:0 0;">Leave</div>
<div style="position:absolute;top:234.21px;font-size:17.0px;line-height:17.0px;color:#1e1e1e;white-space:nowrap;left:422.67px;-webkit-text-stroke:0.15px #1e1e1e;transform:scaleX(1.0698);transform-origin:0 0;">&amp;</div>
<div style="position:absolute;top:234.21px;font-size:17.0px;line-height:17.0px;color:#1e1e1e;white-space:nowrap;left:441.01px;-webkit-text-stroke:0.15px #1e1e1e;transform:scaleX(1.1900);transform-origin:0 0;">Married,</div>
<div style="position:absolute;top:234.21px;font-size:17.0px;line-height:17.0px;color:#1e1e1e;white-space:nowrap;left:522.06px;-webkit-text-stroke:0.15px #1e1e1e;transform:scaleX(0.9953);transform-origin:0 0;">Fast</div>
<div style="position:absolute;top:234.21px;font-size:17.0px;line-height:17.0px;color:#1e1e1e;white-space:nowrap;left:560.38px;-webkit-text-stroke:0.15px #1e1e1e;transform:scaleX(1.2830);transform-origin:0 0;">to</div>
<div style="position:absolute;top:234.21px;font-size:17.0px;line-height:17.0px;color:#1e1e1e;white-space:nowrap;left:583.36px;-webkit-text-stroke:0.15px #1e1e1e;transform:scaleX(1.1534);transform-origin:0 0;">Parenthood</div>
<div style="position:absolute;top:669.99px;font-size:17.5px;line-height:17.5px;color:#1e1e1e;white-space:nowrap;left:97.14px;-webkit-text-stroke:0.15px #1e1e1e;transform:scaleX(1.0098);transform-origin:0 0;">Leave</div>
<div style="position:absolute;top:669.99px;font-size:17.5px;line-height:17.5px;color:#1e1e1e;white-space:nowrap;left:152.26px;-webkit-text-stroke:0.15px #1e1e1e;transform:scaleX(1.0727);transform-origin:0 0;">&amp;</div>
<div style="position:absolute;top:669.99px;font-size:17.5px;line-height:17.5px;color:#1e1e1e;white-space:nowrap;left:170.96px;-webkit-text-stroke:0.15px #1e1e1e;transform:scaleX(1.1220);transform-origin:0 0;">Cohabiting</div>
<div style="position:absolute;top:674.19px;font-size:17.5px;line-height:17.5px;color:#1e1e1e;white-space:nowrap;left:372.63px;-webkit-text-stroke:0.15px #1e1e1e;transform:scaleX(1.0142);transform-origin:0 0;">Leave</div>
<div style="position:absolute;top:674.19px;font-size:17.5px;line-height:17.5px;color:#1e1e1e;white-space:nowrap;left:428.27px;-webkit-text-stroke:0.15px #1e1e1e;transform:scaleX(1.0636);transform-origin:0 0;">&amp;</div>
<div style="position:absolute;top:674.19px;font-size:17.5px;line-height:17.5px;color:#1e1e1e;white-space:nowrap;left:447.27px;-webkit-text-stroke:0.15px #1e1e1e;transform:scaleX(1.1130);transform-origin:0 0;">Cohabiting,</div>
<div style="position:absolute;top:674.19px;font-size:17.5px;line-height:17.5px;color:#1e1e1e;white-space:nowrap;left:552.30px;-webkit-text-stroke:0.15px #1e1e1e;transform:scaleX(1.1161);transform-origin:0 0;">Parenthood</div>
<div style="position:absolute;top:458.06px;font-size:18.6px;line-height:18.6px;color:#111;white-space:nowrap;left:264.00px;-webkit-text-stroke:0.15px #111;">NoLeave</div>
<div style="position:absolute;top:476.66px;font-size:18.6px;line-height:18.6px;color:#111;white-space:nowrap;left:264.00px;-webkit-text-stroke:0.15px #111;">Leave</div>
<div style="position:absolute;top:495.26px;font-size:18.6px;line-height:18.6px;color:#111;white-space:nowrap;left:264.00px;-webkit-text-stroke:0.15px #111;">CohabLeave</div>
<div style="position:absolute;top:513.86px;font-size:18.6px;line-height:18.6px;color:#111;white-space:nowrap;left:264.00px;-webkit-text-stroke:0.15px #111;">Married</div>
<div style="position:absolute;top:532.46px;font-size:18.6px;line-height:18.6px;color:#111;white-space:nowrap;left:264.00px;-webkit-text-stroke:0.15px #111;">MarriedLeave</div>
<div style="position:absolute;top:551.06px;font-size:18.6px;line-height:18.6px;color:#111;white-space:nowrap;left:264.00px;-webkit-text-stroke:0.15px #111;">Parent</div>
<div style="position:absolute;top:569.66px;font-size:18.6px;line-height:18.6px;color:#111;white-space:nowrap;left:264.00px;-webkit-text-stroke:0.15px #111;">ParentLeave</div>
<div style="position:absolute;top:588.26px;font-size:18.6px;line-height:18.6px;color:#111;white-space:nowrap;left:264.00px;-webkit-text-stroke:0.15px #111;">ParentMarried</div>
<div style="position:absolute;top:606.86px;font-size:18.6px;line-height:18.6px;color:#111;white-space:nowrap;left:264.00px;-webkit-text-stroke:0.15px #111;">ParentMarriedLeave</div>
<div style="position:absolute;top:899.69px;font-size:18.8px;line-height:18.8px;color:#111;white-space:nowrap;left:280.00px;-webkit-text-stroke:0.15px #111;">NoLeave</div>
<div style="position:absolute;top:918.53px;font-size:18.8px;line-height:18.8px;color:#111;white-space:nowrap;left:280.00px;-webkit-text-stroke:0.15px #111;">Leave</div>
<div style="position:absolute;top:937.37px;font-size:18.8px;line-height:18.8px;color:#111;white-space:nowrap;left:280.00px;-webkit-text-stroke:0.15px #111;">Cohab</div>
<div style="position:absolute;top:956.21px;font-size:18.8px;line-height:18.8px;color:#111;white-space:nowrap;left:280.00px;-webkit-text-stroke:0.15px #111;">CohabLeave</div>
<div style="position:absolute;top:975.05px;font-size:18.8px;line-height:18.8px;color:#111;white-space:nowrap;left:280.00px;-webkit-text-stroke:0.15px #111;">Parent</div>
<div style="position:absolute;top:993.89px;font-size:18.8px;line-height:18.8px;color:#111;white-space:nowrap;left:280.00px;-webkit-text-stroke:0.15px #111;">ParentLeave</div>
<div style="position:absolute;top:1012.73px;font-size:18.8px;line-height:18.8px;color:#111;white-space:nowrap;left:280.00px;-webkit-text-stroke:0.15px #111;">ParentCohab</div>
<div style="position:absolute;top:1031.57px;font-size:18.8px;line-height:18.8px;color:#111;white-space:nowrap;left:280.00px;-webkit-text-stroke:0.15px #111;">ParentCohabLeave</div>
</body></html>
